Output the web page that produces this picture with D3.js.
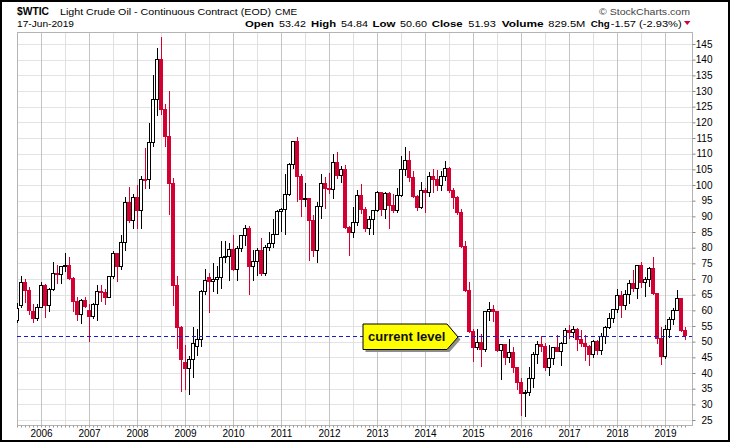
<!DOCTYPE html>
<html lang="en">
<head>
  <meta charset="UTF-8">
  <title>$WTIC Light Crude Oil - Monthly</title>
  <script src="https://d3js.org/d3.v7.min.js"></script>
  <style>
    html, body { margin: 0; padding: 0; background: #fff; }
    svg { display: block; font-family: "Liberation Sans", Arial, sans-serif; }
  </style>
</head>
<body>
  <div id="chart"></div>
  <script>
    // monthly bars, Jul 2005 .. Jun 2019
    const firstMonth = new Date(2005, 6, 1);
    const lastMonth = new Date(2019, 5, 1);

    const opens = [
      56.6, 61.4, 68.9, 66.2, 59.6, 57.3,
      61.0, 67.9, 61.4, 66.6, 71.9, 71.3, 73.9, 74.4, 70.3, 62.9, 58.7, 63.1,
      60.0, 58.1, 61.8, 65.9, 65.7, 64.0, 70.7, 78.2, 74.0, 81.7, 94.5, 88.7,
      96.0, 91.8, 101.8, 101.6, 113.5, 127.4, 140.0, 124.1, 115.5, 100.6, 67.8, 54.4,
      43.5, 41.3, 44.2, 48.6, 50.6, 66.0, 70.4, 69.2, 69.8, 70.5, 77.0, 77.3,
      79.4, 72.9, 79.7, 83.8, 86.2, 74.0, 75.6, 79.0, 71.9, 80.0, 81.4, 84.1,
      91.4, 92.2, 97.0, 106.7, 113.9, 102.7, 95.4, 95.7, 88.8, 79.2, 93.2, 100.4,
      98.8, 98.5, 107.1, 103.0, 104.9, 86.5, 85.0, 88.1, 96.5, 92.2, 86.2, 88.9,
      91.8, 97.5, 92.1, 97.2, 93.5, 92.0, 96.6, 105.0, 107.7, 102.3, 96.4, 92.7,
      98.4, 97.5, 102.6, 101.6, 99.7, 102.7, 105.4, 98.2, 96.0, 91.2, 80.5, 66.2,
      53.3, 48.2, 49.8, 47.6, 59.6, 60.3, 59.5, 47.1, 49.2, 45.1, 46.6, 41.7,
      37.0, 33.6, 33.8, 38.3, 45.9, 49.1, 48.3, 41.6, 44.7, 48.2, 46.9, 49.4,
      53.7, 52.8, 54.0, 50.6, 49.3, 48.3, 46.0, 50.2, 47.2, 51.7, 54.4, 57.4,
      60.2, 64.7, 61.6, 64.9, 68.6, 67.0, 74.2, 68.8, 69.8, 73.3, 65.3, 50.9,
      45.4, 53.8, 57.2, 60.1, 63.9, 53.42
    ];
    const highs = [
      62.3, 70.9, 70.0, 67.3, 62.1, 61.9,
      69.2, 68.4, 67.1, 75.4, 74.6, 74.0, 78.4, 77.0, 70.7, 64.1, 63.5, 64.4,
      61.9, 62.5, 68.1, 68.1, 66.8, 70.9, 78.8, 78.3, 84.1, 96.2, 99.3, 97.0,
      100.1, 103.0, 111.8, 119.9, 135.1, 143.7, 147.3, 126.0, 130.0, 102.1, 71.0, 55.0,
      49.0, 45.4, 54.7, 54.0, 66.6, 73.2, 72.0, 75.0, 74.0, 82.0, 82.0, 81.4,
      84.0, 80.5, 83.9, 87.2, 87.0, 79.3, 79.8, 83.0, 81.0, 84.9, 89.0, 92.0,
      92.6, 103.4, 107.0, 114.0, 115.2, 103.4, 100.6, 96.0, 90.5, 94.6, 103.4, 102.4,
      103.7, 109.8, 110.6, 106.0, 106.4, 86.9, 92.9, 98.3, 100.4, 93.0, 90.0, 91.9,
      98.2, 97.8, 97.8, 97.8, 97.0, 99.0, 109.3, 112.2, 110.7, 104.4, 96.9, 100.8,
      98.9, 104.0, 105.2, 104.9, 104.5, 107.7, 105.8, 98.9, 96.4, 92.5, 82.1, 69.0,
      54.0, 54.2, 52.5, 59.9, 62.6, 61.6, 59.7, 49.3, 49.3, 50.9, 48.4, 42.0,
      38.4, 34.7, 41.9, 46.8, 50.2, 51.7, 49.5, 48.8, 48.3, 52.2, 49.9, 54.5,
      55.2, 54.9, 54.3, 53.8, 52.0, 48.9, 50.4, 50.6, 52.9, 54.9, 59.0, 60.5,
      66.7, 66.3, 66.6, 69.6, 72.9, 74.5, 75.3, 70.7, 73.8, 76.9, 65.4, 54.6,
      55.4, 57.8, 60.7, 66.6, 64.0, 54.84
    ];
    const lows = [
      55.8, 60.6, 62.3, 58.5, 56.1, 56.6,
      60.8, 57.6, 59.6, 66.1, 68.4, 68.4, 72.2, 69.8, 59.5, 56.6, 55.5, 60.6,
      50.0, 57.2, 56.6, 62.8, 61.6, 63.8, 70.0, 69.0, 72.9, 78.9, 88.0, 86.0,
      86.1, 86.1, 98.7, 98.7, 112.0, 122.0, 122.4, 112.0, 90.5, 61.5, 47.8, 33.8,
      34.5, 33.0, 38.5, 45.3, 48.3, 65.0, 59.0, 66.0, 65.1, 66.7, 75.2, 69.5,
      72.4, 69.5, 78.5, 80.6, 65.0, 69.5, 71.0, 70.8, 70.8, 79.0, 80.0, 84.0,
      85.1, 83.9, 96.5, 105.0, 94.6, 89.7, 93.0, 75.7, 77.1, 75.0, 89.2, 92.5,
      97.0, 95.4, 102.0, 100.7, 86.0, 77.3, 83.0, 87.0, 90.6, 84.9, 84.1, 84.1,
      91.5, 90.0, 89.3, 86.1, 91.0, 91.0, 96.1, 103.0, 101.1, 95.9, 91.8, 92.4,
      91.2, 96.1, 97.4, 98.0, 98.0, 101.3, 97.3, 92.5, 90.4, 79.8, 65.7, 52.7,
      43.6, 47.4, 42.0, 46.7, 56.5, 56.4, 46.7, 37.8, 42.6, 43.2, 39.9, 34.5,
      26.2, 26.1, 32.6, 35.2, 43.0, 46.7, 40.6, 39.2, 42.5, 46.6, 42.2, 49.3,
      50.7, 51.2, 47.1, 48.2, 43.8, 42.1, 44.8, 45.6, 45.6, 49.1, 54.2, 55.8,
      59.3, 57.5, 60.0, 62.1, 65.8, 63.6, 67.0, 64.4, 67.5, 64.9, 49.4, 42.4,
      44.4, 51.2, 55.3, 60.0, 53.0, 50.60
    ];
    const closes = [
      60.6, 68.9, 66.2, 59.8, 57.3, 61.0,
      67.9, 61.4, 66.6, 71.9, 71.3, 73.9, 74.4, 70.3, 62.9, 58.7, 63.1, 61.1,
      58.1, 61.8, 65.9, 65.7, 64.0, 70.7, 78.2, 74.0, 81.7, 94.5, 88.7, 96.0,
      91.8, 101.8, 101.6, 113.5, 127.4, 140.0, 124.1, 115.5, 100.6, 67.8, 54.4, 44.2,
      41.4, 44.4, 49.5, 50.8, 66.0, 69.6, 69.3, 69.8, 70.5, 77.0, 77.3, 79.4,
      72.9, 79.7, 83.8, 86.2, 74.0, 75.6, 79.0, 71.9, 80.0, 81.4, 84.1, 91.4,
      92.2, 97.0, 106.7, 113.9, 102.7, 95.4, 95.7, 88.8, 79.2, 93.2, 100.4, 98.8,
      98.5, 107.1, 103.0, 104.9, 86.5, 85.0, 88.1, 96.5, 92.2, 86.2, 88.9, 91.8,
      97.5, 92.1, 97.2, 93.5, 92.0, 96.6, 105.0, 107.7, 102.3, 96.4, 92.7, 98.4,
      97.5, 102.6, 101.6, 99.7, 102.7, 105.4, 98.2, 96.0, 91.2, 80.5, 66.2, 53.3,
      48.2, 49.8, 47.6, 59.6, 60.3, 59.5, 47.1, 49.2, 45.1, 46.6, 41.7, 37.0,
      33.6, 33.8, 38.3, 45.9, 49.1, 48.3, 41.6, 44.7, 48.2, 46.9, 49.4, 53.7,
      52.8, 54.0, 50.6, 49.3, 48.3, 46.0, 50.2, 47.2, 51.7, 54.4, 57.4, 60.4,
      64.7, 61.6, 64.9, 68.6, 67.0, 74.2, 68.8, 69.8, 73.3, 65.3, 50.9, 45.4,
      53.8, 57.2, 60.1, 63.9, 53.5, 51.93
    ];

    const priceTicks = [25, 30, 35, 40, 45, 50, 55, 60, 65, 70, 75, 80, 85,
      90, 95, 100, 105, 110, 115, 120, 125, 130, 135, 140, 145];
    const yearLabels = ["2006", "2007", "2008", "2009", "2010", "2011", "2012",
      "2013", "2014", "2015", "2016", "2017", "2018", "2019"];
    const currentLevel = 51.93;

    const width = 730, height = 442;
    const plot = { left: 17, right: 692, top: 32, bottom: 425 };
    const red = "#d40032";

    const fmt = d3.timeFormat("%Y-%m");
    const months = d3.timeMonth.range(firstMonth, d3.timeMonth.offset(lastMonth, 1)).map(fmt);
    const bars = months.map((m, i) => ({
      m: m, o: opens[i], h: highs[i], l: lows[i], c: closes[i],
      prev: i > 0 ? closes[i - 1] : opens[i]
    }));

    const x = d3.scaleBand()
      .domain(months)
      .range([plot.left - 2, plot.left - 2 + 4 * months.length])
      .paddingInner(0);
    const cx = m => x(m) + x.bandwidth() / 2;

    const y = d3.scaleLinear().domain([25, 145]).range([420, 44]);

    const svg = d3.select("#chart").append("svg")
      .attr("width", width)
      .attr("height", height);

    svg.append("rect")
      .attr("x", 1).attr("y", 1)
      .attr("width", width - 2).attr("height", height - 2)
      .attr("fill", "#fff").attr("stroke", "#000").attr("stroke-width", 2);

    svg.append("clipPath").attr("id", "plotclip")
      .append("rect")
      .attr("x", plot.left).attr("y", plot.top)
      .attr("width", plot.right - plot.left).attr("height", plot.bottom - plot.top);

    // grid
    const grid = svg.append("g").attr("shape-rendering", "crispEdges");
    grid.selectAll("line.h").data(priceTicks).join("line")
      .attr("class", "h")
      .attr("x1", plot.left).attr("x2", plot.right)
      .attr("y1", d => Math.round(y(d)) + 0.5).attr("y2", d => Math.round(y(d)) + 0.5)
      .attr("stroke", "#e3e3e3");
    const gridMonths = months.filter(m => m.endsWith("-01") || m.endsWith("-07"));
    grid.selectAll("line.v").data(gridMonths).join("line")
      .attr("class", "v")
      .attr("x1", d => cx(d) + 0.5).attr("x2", d => cx(d) + 0.5)
      .attr("y1", plot.top).attr("y2", plot.bottom)
      .attr("stroke", d => d.endsWith("-01") ? "#c4c4c4" : "#e0e0e0");

    svg.append("rect")
      .attr("x", plot.left + 0.5).attr("y", plot.top + 0.5)
      .attr("width", plot.right - plot.left).attr("height", plot.bottom - plot.top)
      .attr("fill", "none").attr("stroke", "#b4b4b4")
      .attr("shape-rendering", "crispEdges");

    // right price axis
    const yAxis = svg.append("g")
      .attr("transform", `translate(${plot.right + 0.5},0)`)
      .call(d3.axisRight(y).tickValues(priceTicks).tickSize(3).tickFormat(d3.format("d")));
    yAxis.select(".domain").remove();
    yAxis.selectAll(".tick line").attr("stroke", "#888");
    yAxis.selectAll(".tick text")
      .attr("x", 20).attr("text-anchor", "end")
      .attr("fill", "#000").style("font-size", "10px")
      .style("font-family", "'Liberation Sans', Arial, sans-serif");

    // bottom time axis
    const xAxis = svg.append("g")
      .attr("transform", `translate(0.5,${plot.bottom + 0.5})`)
      .call(d3.axisBottom(x).tickValues(months).tickSize(2).tickPadding(2)
        .tickFormat(d => d.endsWith("-01") && yearLabels.includes(d.slice(0, 4)) ? d.slice(0, 4) : ""));
    xAxis.select(".domain").remove();
    xAxis.selectAll(".tick line").attr("stroke", "#999");
    xAxis.selectAll(".tick text")
      .attr("fill", "#000").style("font-size", "10px")
      .style("font-family", "'Liberation Sans', Arial, sans-serif");

    // candles
    const cg = svg.append("g")
      .attr("clip-path", "url(#plotclip)")
      .attr("shape-rendering", "crispEdges");
    const candle = cg.selectAll("g.candle").data(bars).join("g").attr("class", "candle");
    const colorOf = d => d.c >= d.prev ? "#000" : red;
    candle.append("line")
      .attr("x1", d => cx(d.m) + 0.5).attr("x2", d => cx(d.m) + 0.5)
      .attr("y1", d => y(d.h)).attr("y2", d => y(d.l))
      .attr("stroke", colorOf).attr("stroke-width", 1);
    candle.append("rect")
      .attr("x", d => cx(d.m) - 1.5)
      .attr("width", 3)
      .attr("y", d => y(Math.max(d.o, d.c)))
      .attr("height", d => Math.max(1, Math.abs(y(d.o) - y(d.c))))
      .attr("fill", d => d.c > d.o ? "#fff" : colorOf(d))
      .attr("stroke", colorOf).attr("stroke-width", 1);

    // current level line
    const yc = y(currentLevel);
    svg.append("line")
      .attr("x1", plot.left).attr("x2", plot.right)
      .attr("y1", Math.round(yc) + 0.5).attr("y2", Math.round(yc) + 0.5)
      .attr("stroke", "#1a1acd").attr("stroke-dasharray", "4,3")
      .attr("shape-rendering", "crispEdges");

    // callout
    const tipX = 458, tipY = Math.round(yc) + 1;
    const callout = [[tipX - 95, tipY - 13], [tipX - 11, tipY - 13], [tipX, tipY],
      [tipX - 11, tipY + 12.5], [tipX - 95, tipY + 12.5]];
    const co = svg.append("g");
    co.append("polygon")
      .attr("points", callout.map(p => [p[0] + 2.5, p[1] + 2.5].join(",")).join(" "))
      .attr("fill", "#8c8c8c");
    co.append("polygon")
      .attr("points", callout.map(p => p.join(",")).join(" "))
      .attr("fill", "#ffff00").attr("stroke", "#000").attr("stroke-width", 1);
    co.append("text")
      .attr("x", tipX - 90).attr("y", tipY + 3.5)
      .attr("font-size", 13).attr("font-weight", "bold").attr("fill", "#111")
      .text("current level");

    // header
    function put(xp, yp, str, w, size, weight, fill) {
      return svg.append("text")
        .attr("x", xp).attr("y", yp)
        .attr("font-size", size).attr("font-weight", weight || "normal")
        .attr("fill", fill || "#000")
        .attr("textLength", w).attr("lengthAdjust", "spacingAndGlyphs")
        .text(str);
    }
    put(17, 14.5, "$WTIC", 32, 11.5, "bold");
    put(60, 14.5, "Light Crude Oil - Continuous Contract (EOD)", 211, 9.8);
    put(275, 14.5, "CME", 22, 8.5);
    put(599, 14.5, "\u00A9 StockCharts.com", 91, 9.5, "normal", "#444");
    put(17, 27, "17-Jun-2019", 57, 9.5);
    put(245, 27, "Open", 29, 9.8, "bold");
    put(279, 27, "53.42", 27, 9.8);
    put(311, 27, "High", 25, 9.8, "bold");
    put(341, 27, "54.84", 27, 9.8);
    put(372.5, 27, "Low", 23, 9.8, "bold");
    put(400, 27, "50.60", 27, 9.8);
    put(431.7, 27, "Close", 31, 9.8, "bold");
    put(468.3, 27, "51.93", 27.5, 9.8);
    put(501.7, 27, "Volume", 42, 9.8, "bold");
    put(548.3, 27, "829.5M", 37, 9.8);
    put(590.7, 27, "Chg", 19, 9.8, "bold");
    put(610.7, 27, "-1.57 (-2.93%)", 71, 9.8);
    svg.append("polygon")
      .attr("points", "684,21 690.5,21 687.25,25")
      .attr("fill", red);
  </script>
</body>
</html>
